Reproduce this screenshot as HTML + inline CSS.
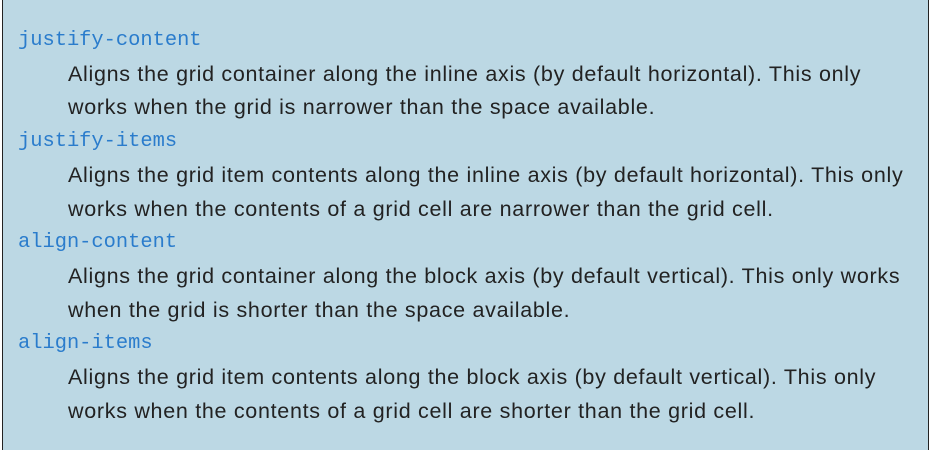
<!DOCTYPE html>
<html><head><meta charset="utf-8"><style>
html,body{margin:0;padding:0;background:#fff;width:931px;height:450px;overflow:hidden}
.box{position:absolute;left:2px;top:0;width:925px;height:450px;background:#bcd8e4;border-left:1px solid #222;border-right:1px solid #222}
.c{position:absolute;left:0;top:24px;line-height:33.7px;white-space:nowrap}
.t{font-family:"Liberation Mono",monospace;font-size:20.4px;color:#2a7ccc;padding-left:15px}
.d{font-family:"Liberation Sans",sans-serif;font-size:21.5px;letter-spacing:0.7px;color:#222;padding-left:65px}
</style></head><body><div class="box"><div class="c">
<div class="t">justify-content</div>
<div class="d">Aligns the grid container along the inline axis (by default horizontal). This only</div>
<div class="d">works when the grid is narrower than the space available.</div>
<div class="t">justify-items</div>
<div class="d">Aligns the grid item contents along the inline axis (by default horizontal). This only</div>
<div class="d">works when the contents of a grid cell are narrower than the grid cell.</div>
<div class="t">align-content</div>
<div class="d">Aligns the grid container along the block axis (by default vertical). This only works</div>
<div class="d">when the grid is shorter than the space available.</div>
<div class="t">align-items</div>
<div class="d">Aligns the grid item contents along the block axis (by default vertical). This only</div>
<div class="d">works when the contents of a grid cell are shorter than the grid cell.</div>
</div></div></body></html>
